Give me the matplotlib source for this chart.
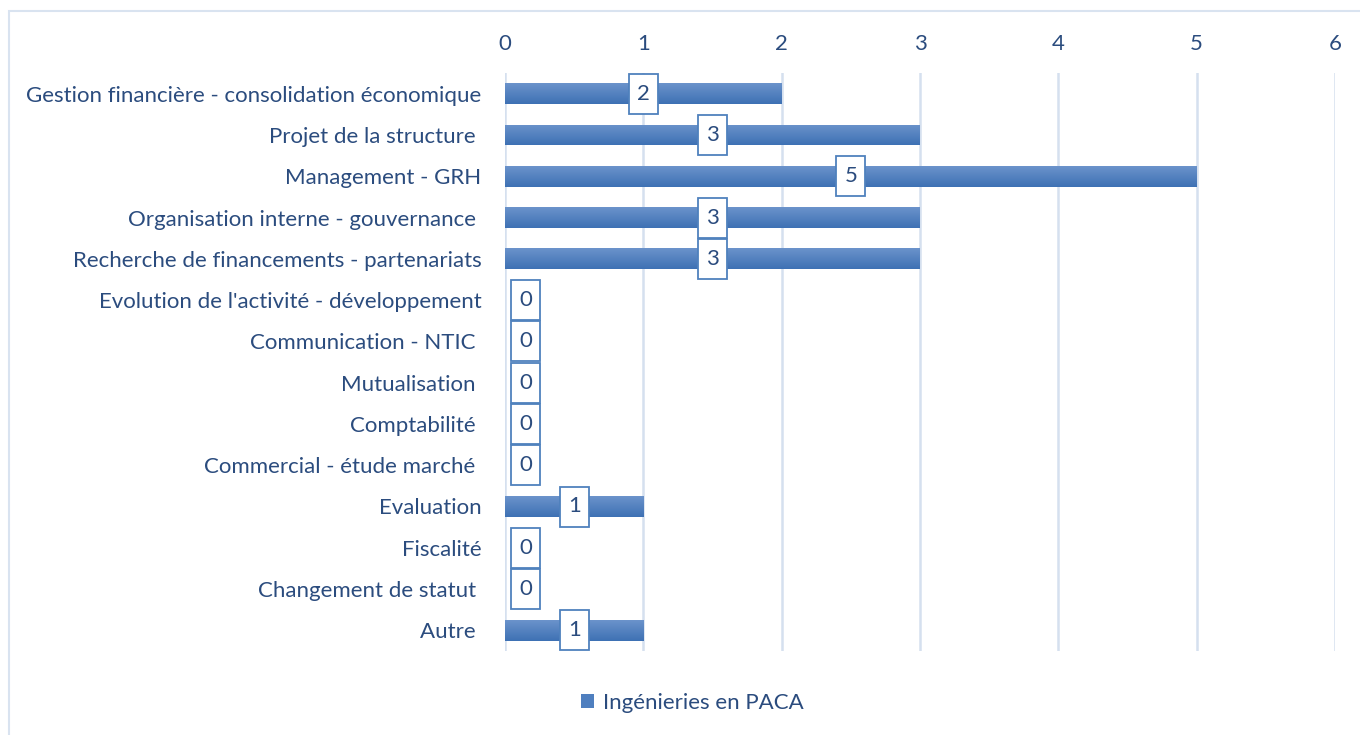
import matplotlib.pyplot as plt
import matplotlib.transforms as mtransforms
import numpy as np
from matplotlib.patches import Rectangle, Patch
from matplotlib.colors import LinearSegmentedColormap

plt.rcParams['font.family'] = ['Lato', 'DejaVu Sans']

categories = [
    "Gestion financière - consolidation économique",
    "Projet de la structure ",
    "Management - GRH",
    "Organisation interne - gouvernance ",
    "Recherche de financements - partenariats",
    "Evolution de l'activité - développement",
    "Communication - NTIC ",
    "Mutualisation ",
    "Comptabilité ",
    "Commercial - étude marché ",
    "Evaluation",
    "Fiscalité",
    "Changement de statut ",
    "Autre ",
]
values = [2, 3, 5, 3, 3, 0, 0, 0, 0, 0, 1, 0, 0, 1]
series_name = "Ingénieries en PACA"
xticks = [0, 1, 2, 3, 4, 5, 6]

text_color = '#2B4C7E'
edge_blue = '#4F81BD'
grid_color = '#D5E0EF'

fig = plt.figure(figsize=(13.6, 7.35), dpi=100)
ax = fig.add_axes([505 / 1360, 1 - 651 / 735, 830 / 1360, (651 - 73) / 735])

y = np.arange(len(categories))
bars = ax.barh(y, values, height=0.5, color='#4F7FBF', zorder=2)

# vertical gradient on each bar
grad = np.linspace(0, 1, 64).reshape(-1, 1)
cmap = LinearSegmentedColormap.from_list('g', ['#6B93CB', '#3E71B4'])
for b, v in zip(bars, values):
    if v <= 0:
        continue
    x0, y0 = b.get_x(), b.get_y()
    w, h = b.get_width(), b.get_height()
    im = ax.imshow(grad, cmap=cmap, aspect='auto', origin='upper',
                   extent=(x0, x0 + w, y0 + h, y0), zorder=3)
    im.set_clip_path(b)

# data labels in boxes (box size in inches)
bw, bh = 0.29, 0.40
for yi, v in zip(y, values):
    xpos = v / 2 if v > 0 else 0.15
    tr = fig.dpi_scale_trans + mtransforms.ScaledTranslation(xpos, yi, ax.transData)
    ax.add_patch(Rectangle((-bw / 2, -bh / 2), bw, bh, transform=tr,
                           fc='white', ec=edge_blue, lw=1.3, zorder=4))
    ax.text(xpos, yi, str(v), ha='center', va='center', fontsize=16,
            color=text_color, zorder=5)

ax.set_xlim(0, 6)
ax.set_ylim(len(categories) - 0.5, -0.5)
ax.set_xticks(xticks)
ax.set_yticks(y)
ax.set_yticklabels(categories)
ax.xaxis.tick_top()
ax.tick_params(axis='x', length=0, pad=14, labelsize=16, labelcolor=text_color)
ax.tick_params(axis='y', length=0, pad=17, labelsize=16, labelcolor=text_color)
ax.grid(axis='x', color=grid_color, lw=1.8, zorder=0)
ax.set_axisbelow(True)
for s in ax.spines.values():
    s.set_visible(False)

fig.legend(handles=[Patch(facecolor='#4F7FBF', label=series_name)],
           loc='center', bbox_to_anchor=(692 / 1360, 1 - 703 / 735),
           frameon=False, fontsize=16, labelcolor=text_color,
           handlelength=0.6, handleheight=0.6, handletextpad=0.4)

fig.patches.append(Rectangle((9 / 1360, -0.01), 1.0, 1 - 11 / 735 + 0.01,
                             transform=fig.transFigure, fill=False,
                             ec='#D9E3F0', lw=1.5))

fig.savefig('out.png', dpi=100)
